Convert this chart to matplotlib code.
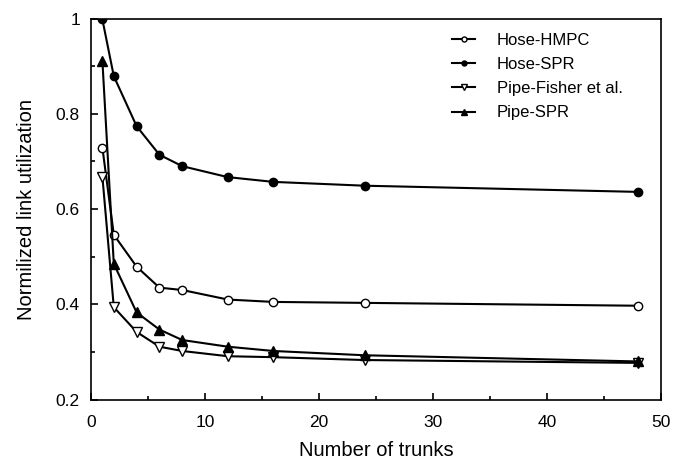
import matplotlib
matplotlib.use("Agg")
import matplotlib.pyplot as plt
from matplotlib.ticker import MultipleLocator, FormatStrFormatter

plt.rcParams['font.family'] = ['Liberation Sans', 'DejaVu Sans']

trunks = [1, 2, 4, 6, 8, 12, 16, 24, 48]
hose_hmpc = [0.729, 0.546, 0.479, 0.435, 0.430, 0.410, 0.405, 0.403, 0.397]
hose_spr = [0.998, 0.879, 0.774, 0.714, 0.690, 0.667, 0.657, 0.649, 0.636]
pipe_fisher = [0.668, 0.394, 0.342, 0.311, 0.302, 0.291, 0.289, 0.283, 0.277]
pipe_spr = [0.911, 0.485, 0.383, 0.347, 0.325, 0.311, 0.302, 0.293, 0.280]

fig = plt.figure(figsize=(6.74, 4.63), dpi=100)
ax = fig.add_axes([0.135, 0.137, 0.846, 0.823])

ax.plot(trunks, hose_hmpc, '-o', color='black', mfc='white', mec='black', ms=6, lw=1.5, label='Hose-HMPC')
ax.plot(trunks, hose_spr, '-o', color='black', mfc='black', ms=6, lw=1.5, label='Hose-SPR')
ax.plot(trunks, pipe_fisher, '-v', color='black', mfc='white', mec='black', ms=7, lw=1.5, label='Pipe-Fisher et al.')
ax.plot(trunks, pipe_spr, '-^', color='black', mfc='black', ms=7, lw=1.5, label='Pipe-SPR')

ax.set_xlim(0, 50)
ax.set_ylim(0.2, 1)
ax.xaxis.set_major_locator(MultipleLocator(10))
ax.xaxis.set_minor_locator(MultipleLocator(5))
ax.yaxis.set_major_locator(MultipleLocator(0.2))
ax.yaxis.set_minor_locator(MultipleLocator(0.1))
ax.yaxis.set_major_formatter(FormatStrFormatter('%g'))
ax.tick_params(which='both', direction='in', top=False, right=False, labelsize=12.5)
ax.tick_params(which='major', length=5, width=1.2, pad=8)
ax.tick_params(axis='x', which='major', pad=11)
ax.tick_params(which='minor', length=3, width=1.2)
for s in ax.spines.values():
    s.set_linewidth(1.2)

ax.set_xlabel('Number of trunks', fontsize=14.5, labelpad=8)
ax.set_ylabel('Normilized link utilization', fontsize=14.5, labelpad=14)

ax.legend(loc='upper left', frameon=False, fontsize=12, markerscale=0.6,
          handlelength=1.4, handletextpad=1.3, labelspacing=0.55, borderpad=0,
          borderaxespad=0, bbox_to_anchor=(0.633, 0.962))

fig.savefig('out.png', dpi=100)
